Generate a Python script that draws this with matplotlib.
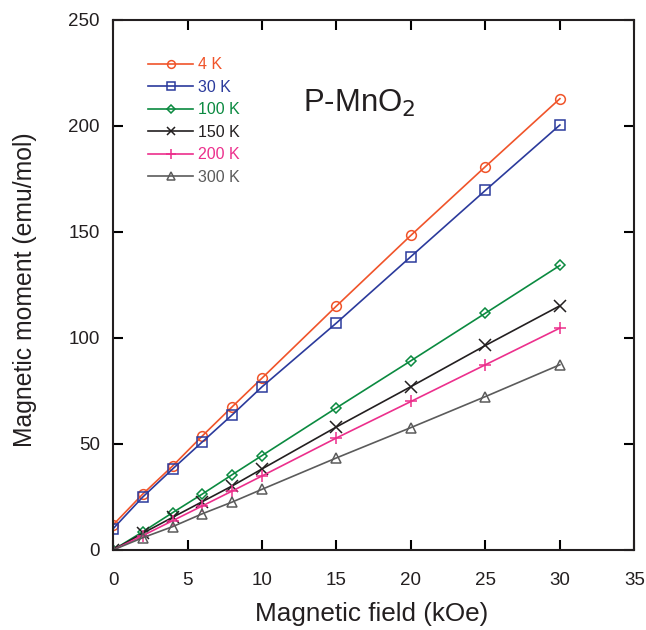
#!/usr/bin/env python3

import matplotlib
matplotlib.use('Agg')

import matplotlib.pyplot as plt
import numpy as np


field = [0, 2, 4, 6, 8, 10, 15, 20, 25, 30]

m_4k = [11.8, 26.4, 39.6, 53.8, 67.5, 81.0, 115.0, 148.3, 180.7, 212.7]
m_30k = [10.0, 25.0, 38.2, 51.0, 63.7, 76.9, 107.0, 138.3, 169.5, 200.3]
m_100k = [0.0, 8.6, 17.6, 26.4, 35.5, 44.5, 67.0, 89.2, 111.6, 134.1]
m_150k = [0.0, 7.9, 15.4, 22.8, 30.2, 38.2, 58.0, 77.0, 96.4, 115.1]
m_200k = [0.0, 6.8, 13.8, 20.8, 27.8, 34.9, 52.8, 70.0, 87.3, 104.6]
m_300k = [0.0, 5.8, 11.0, 17.1, 22.6, 28.6, 43.4, 57.7, 72.3, 87.3]

labels = ['4 K', '30 K', '100 K', '150 K', '200 K', '300 K']
colors = ['#f0542a', '#2b3a9c', '#0b8a40', '#231f20', '#ec2f8c', '#5b5b5b']
markers = ['o', 's', 'D', 'x', '+', '^']
msizes = [7, 7, 5, 8, 9, 6.5]

x_ticks = [0, 5, 10, 15, 20, 25, 30, 35]
y_ticks = [0, 50, 100, 150, 200, 250]


def main():
    plt.rcParams['font.family'] = ['Liberation Sans', 'DejaVu Sans']

    fig = plt.figure(figsize=(6.46, 6.30), dpi=100)
    ax = fig.add_axes([0.175, 0.127, 0.807, 0.842])

    series = [m_4k, m_30k, m_100k, m_150k, m_200k, m_300k]
    for ys, lab, col, mk, ms in zip(series, labels, colors, markers, msizes):
        ax.plot(field, ys, color=col, linewidth=1.2, marker=mk,
                markersize=ms, markerfacecolor='none',
                markeredgecolor=col, markeredgewidth=1.1, label=lab)

    ax.set_xlim(0, 35)
    ax.set_ylim(0, 250)
    ax.set_xticks(x_ticks)
    ax.set_yticks(y_ticks)
    ax.tick_params(axis='both', which='both', direction='in',
                   top=True, right=True, length=7, width=1.5,
                   labelsize=13.5, labelcolor='#231f20')
    ax.tick_params(axis='x', pad=16)
    ax.tick_params(axis='y', pad=9.5)
    for sp in ax.spines.values():
        sp.set_linewidth(1.5)
        sp.set_color('#231f20')

    ax.set_xlabel("Magnetic field (kOe)", fontsize=18.8, color='#231f20')
    ax.set_ylabel("Magnetic moment (emu/mol)", fontsize=17.8,
                  color='#231f20')
    ax.xaxis.set_label_coords(0.496, -0.098)
    ax.yaxis.set_label_coords(-0.146, 0.49)

    leg = ax.legend(loc='upper left', bbox_to_anchor=(0.04, 0.956),
                    frameon=False, fontsize=11.5, handlelength=2.8,
                    handletextpad=0.3, labelspacing=0.47, markerscale=0.8)
    for txt, col in zip(leg.get_texts(), colors):
        txt.set_color(col)

    ax.text(0.365, 0.826, r'P-MnO$_2$', transform=ax.transAxes,
            fontsize=22.4, color='#231f20', ha='left', va='baseline')

    plt.savefig('out.png', dpi=100)
    plt.close()


if __name__ == "__main__":
    main()
